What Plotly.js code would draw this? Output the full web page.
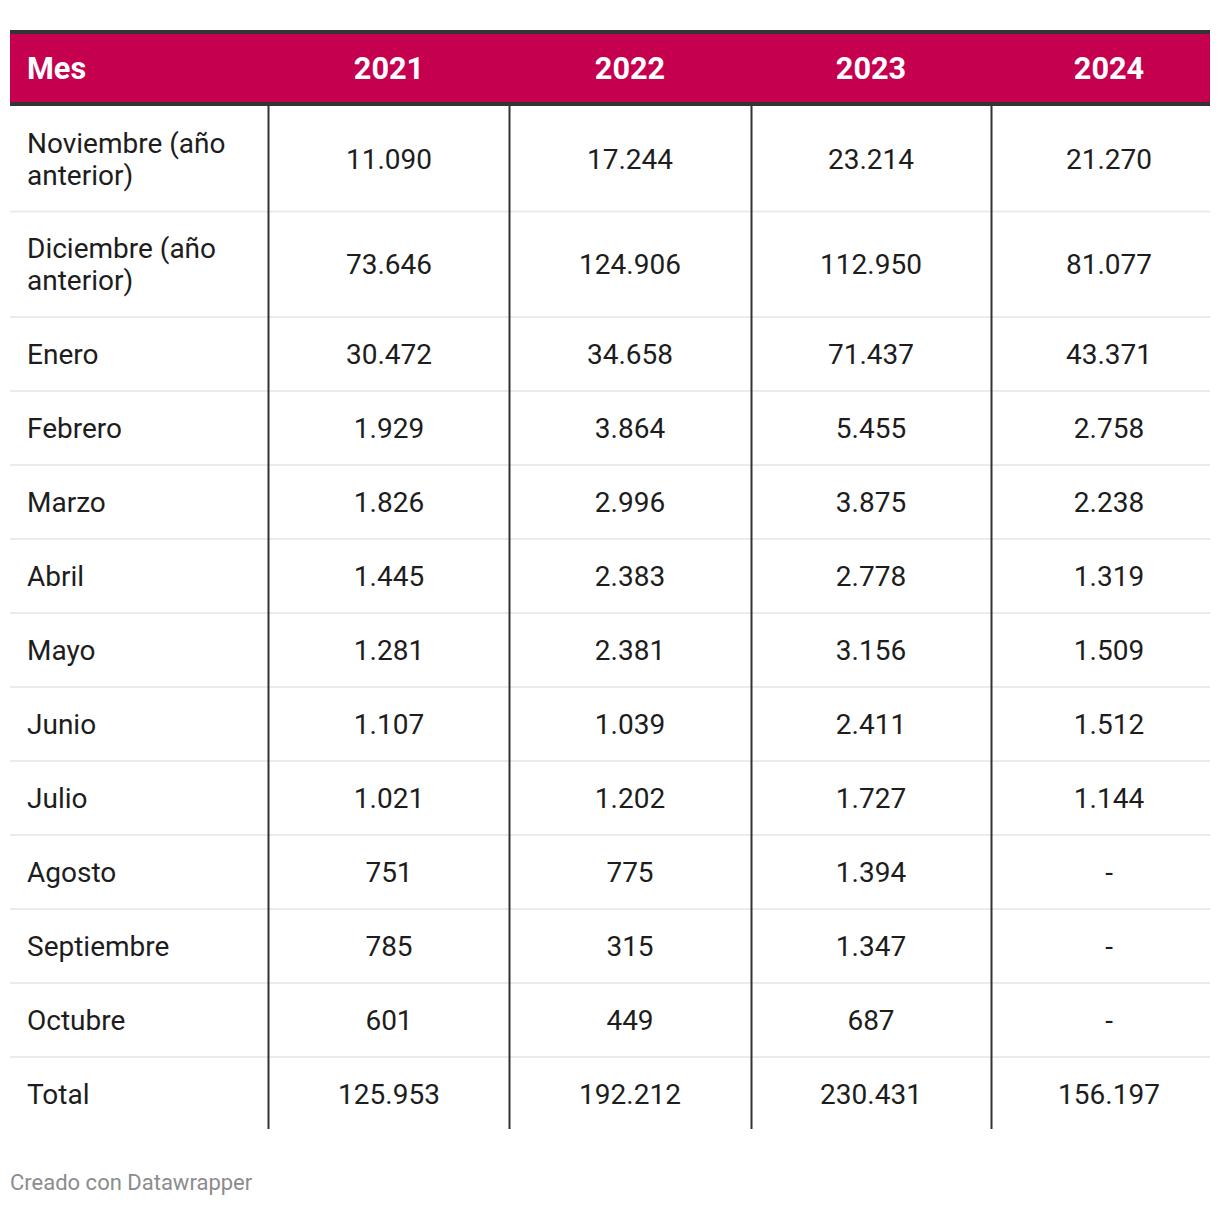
<!DOCTYPE html>
<html>
<head>
<meta charset="utf-8">
<script src="https://cdn.plot.ly/plotly-3.0.1.min.js"></script>
<style>
  html, body { margin: 0; padding: 0; background: #ffffff; }
  #chart { width: 1220px; height: 1206px; }
</style>
</head>
<body>
<div id="chart"></div>
<script>
// ---------------- DATA ----------------
const headerLabel = 'Mes';
const years = ['2021', '2022', '2023', '2024'];
const months = ['Noviembre (año anterior)', 'Diciembre (año anterior)', 'Enero', 'Febrero', 'Marzo', 'Abril', 'Mayo', 'Junio', 'Julio', 'Agosto', 'Septiembre', 'Octubre', 'Total'];
const v2021 = [11090, 73646, 30472, 1929, 1826, 1445, 1281, 1107, 1021, 751, 785, 601, 125953];
const v2022 = [17244, 124906, 34658, 3864, 2996, 2383, 2381, 1039, 1202, 775, 315, 449, 192212];
const v2023 = [23214, 112950, 71437, 5455, 3875, 2778, 3156, 2411, 1727, 1394, 1347, 687, 230431];
const v2024 = [21270, 81077, 43371, 2758, 2238, 1319, 1509, 1512, 1144, null, null, null, 156197];
const footerText = 'Creado con Datawrapper';

// ---------------- LAYOUT CONSTANTS ----------------
const W = 1220, H = 1206;
const FONT = 'Roboto, "Open Sans", Arial, sans-serif';
const PINK = '#c4004f';
const DARK = '#333333';
const SEP = '#ebebeb';
const TEXT = '#1d1d1d';
const colEdges = [10, 268.5, 509.5, 751.5, 991.5, 1210];
const colCenters = [389, 630, 871, 1109];
const labelX = 27;
const headerTop = 30, headerBorder = 4, headerBottom = 106;
const oneLineH = 74, twoLineH = 105.5, lineGap = 32;
const bodySize = 28, headerSize = 30.7, footerSize = 22;
const textDY = 3;   // vertical optical offset for text baseline

function fmt(v) {
  if (v === null || v === undefined) return '-';
  return String(v).replace(/\B(?=(\d{3})+(?!\d))/g, '.');
}
function wrap(s, maxLen) {
  const words = s.split(' ');
  const lines = [];
  let cur = '';
  words.forEach(w => {
    const t = cur ? cur + ' ' + w : w;
    if (t.length > maxLen && cur) { lines.push(cur); cur = w; } else { cur = t; }
  });
  if (cur) lines.push(cur);
  return lines;
}

const series = [v2021, v2022, v2023, v2024];
const labelLines = months.map(m => wrap(m, 15));

// row geometry
const rowTops = [], rowCenters = [];
let y = headerBottom;
labelLines.forEach(lines => {
  const h = lines.length > 1 ? twoLineH : oneLineH;
  rowTops.push(y);
  rowCenters.push(y + h / 2 + textDY);
  y += h;
});
const tableBottom = y - 2;
const headerY = (headerTop + headerBottom) / 2 + textDY;

const traces = [];

// header texts
traces.push({
  type: 'scatter', mode: 'text',
  x: [labelX], y: [headerY],
  text: [headerLabel], textposition: 'middle right',
  textfont: { family: FONT, size: headerSize, color: '#ffffff', weight: 700 },
  hoverinfo: 'skip', showlegend: false, cliponaxis: false
});
traces.push({
  type: 'scatter', mode: 'text',
  x: colCenters, y: years.map(() => headerY),
  text: years, textposition: 'middle center',
  textfont: { family: FONT, size: headerSize, color: '#ffffff', weight: 700 },
  hoverinfo: 'skip', showlegend: false, cliponaxis: false
});

// first column labels (one point per wrapped line)
const lx = [], ly = [], lt = [];
labelLines.forEach((lines, i) => {
  lines.forEach((ln, j) => {
    lx.push(labelX);
    ly.push(rowCenters[i] + (j - (lines.length - 1) / 2) * lineGap);
    lt.push(ln);
  });
});
traces.push({
  type: 'scatter', mode: 'text', x: lx, y: ly, text: lt,
  textposition: 'middle right',
  textfont: { family: FONT, size: bodySize, color: TEXT },
  hoverinfo: 'skip', showlegend: false, cliponaxis: false
});

// value columns
series.forEach((vals, c) => {
  traces.push({
    type: 'scatter', mode: 'text',
    x: vals.map(() => colCenters[c]),
    y: rowCenters,
    text: vals.map(fmt),
    textposition: 'middle center',
    textfont: { family: FONT, size: bodySize, color: TEXT },
    hoverinfo: 'skip', showlegend: false, cliponaxis: false
  });
});

// footer
traces.push({
  type: 'scatter', mode: 'text', x: [10], y: [1184],
  text: [footerText], textposition: 'middle right',
  textfont: { family: FONT, size: footerSize, color: '#8c8c8c' },
  hoverinfo: 'skip', showlegend: false, cliponaxis: false
});

// shapes
const shapes = [];
shapes.push({ type: 'rect', xref: 'x', yref: 'y', x0: colEdges[0], x1: colEdges[5], y0: headerTop, y1: headerBottom, fillcolor: PINK, line: { width: 0 }, layer: 'below' });
shapes.push({ type: 'rect', xref: 'x', yref: 'y', x0: colEdges[0], x1: colEdges[5], y0: headerTop, y1: headerTop + headerBorder, fillcolor: DARK, line: { width: 0 }, layer: 'below' });
shapes.push({ type: 'rect', xref: 'x', yref: 'y', x0: colEdges[0], x1: colEdges[5], y0: headerBottom - headerBorder, y1: headerBottom, fillcolor: DARK, line: { width: 0 }, layer: 'below' });
rowTops.slice(1).forEach(t => {
  shapes.push({ type: 'line', xref: 'x', yref: 'y', x0: colEdges[0], x1: colEdges[5], y0: t, y1: t, line: { color: SEP, width: 2 }, layer: 'below' });
});
colEdges.slice(1, 5).forEach(x => {
  shapes.push({ type: 'line', xref: 'x', yref: 'y', x0: x, x1: x, y0: headerBottom, y1: tableBottom, line: { color: DARK, width: 2 }, layer: 'below' });
});

const layout = {
  width: W, height: H,
  margin: { l: 0, r: 0, t: 0, b: 0, pad: 0 },
  paper_bgcolor: '#ffffff', plot_bgcolor: '#ffffff',
  xaxis: { range: [0, W], visible: false, fixedrange: true },
  yaxis: { range: [H, 0], visible: false, fixedrange: true },
  shapes: shapes,
  showlegend: false
};

Plotly.newPlot('chart', traces, layout, { displayModeBar: false, staticPlot: true });
</script>
</body>
</html>
